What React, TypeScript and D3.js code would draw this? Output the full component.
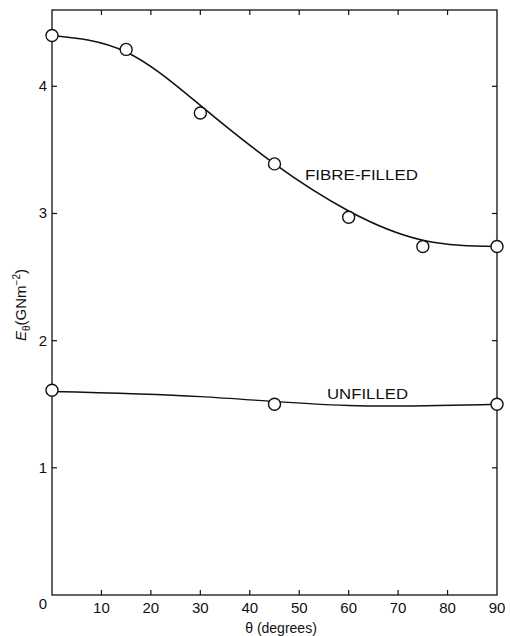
import * as d3 from 'd3';

// measured points (angle in degrees, modulus in GN m^-2)
const fibreAngles = [0, 15, 30, 45, 60, 75, 90];
const fibreValues = [4.4, 4.29, 3.79, 3.39, 2.97, 2.74, 2.74];
const unfilledAngles = [0, 45, 90];
const unfilledValues = [1.61, 1.5, 1.5];

// hand-drawn fitted curves
const fibreCurveAngles = [0, 15, 30, 45, 60, 75, 90];
const fibreCurveValues = [4.4, 4.27, 3.85, 3.39, 3.02, 2.79, 2.74];
const unfilledCurveAngles = [0, 30, 60, 90];
const unfilledCurveValues = [1.6, 1.56, 1.49, 1.5];

const xTicks = [10, 20, 30, 40, 50, 60, 70, 80, 90];
const yTicks = [1, 2, 3, 4];

const W = 510;
const H = 636;
const margin = { top: 10, right: 13, bottom: 41, left: 52 };

const App = () => {
  const x = d3.scaleLinear().domain([0, 90]).range([margin.left, W - margin.right]);
  const y = d3.scaleLinear().domain([0, 4.6]).range([H - margin.bottom, margin.top]);

  const line = d3.line<[number, number]>()
    .x(d => x(d[0]))
    .y(d => y(d[1]))
    .curve(d3.curveNatural);

  const fibreCurve = fibreCurveAngles.map((a, i) => [a, fibreCurveValues[i]] as [number, number]);
  const unfilledCurve = unfilledCurveAngles.map((a, i) => [a, unfilledCurveValues[i]] as [number, number]);

  const x0 = x(0), x1 = x(90), y0 = y(0), y1 = margin.top;
  const tick = 5;
  const font = "'Liberation Sans', Arial, sans-serif";

  return (
    <svg width={W} height={H} style={{ position: 'absolute', left: 0, top: 0, background: '#fff' }}
      fontFamily={font}>
      <rect x={x0} y={y1} width={x1 - x0} height={y0 - y1} fill="none" stroke="#111" strokeWidth={1.3} />
      {xTicks.slice(0, -1).map(t => (
        <g key={'xt' + t}>
          <line x1={x(t)} x2={x(t)} y1={y0} y2={y0 - tick} stroke="#111" strokeWidth={1.2} />
          <line x1={x(t)} x2={x(t)} y1={y1} y2={y1 + tick} stroke="#111" strokeWidth={1.2} />
        </g>
      ))}
      {yTicks.map(t => (
        <g key={'yt' + t}>
          <line x1={x0} x2={x0 + tick} y1={y(t)} y2={y(t)} stroke="#111" strokeWidth={1.2} />
          <line x1={x1} x2={x1 - tick} y1={y(t)} y2={y(t)} stroke="#111" strokeWidth={1.2} />
          <text x={x0 - 5} y={y(t) + 5} textAnchor="end" fontSize={15} fill="#111">{t}</text>
        </g>
      ))}
      {xTicks.map(t => (
        <text key={'xl' + t} x={x(t)} y={y0 + 18} textAnchor="middle" fontSize={15} fill="#111">{t}</text>
      ))}
      <text x={x0 - 9} y={y0 + 14} textAnchor="middle" fontSize={15} fill="#111">0</text>

      <path d={line(fibreCurve) ?? ''} fill="none" stroke="#111" strokeWidth={1.6} />
      <path d={line(unfilledCurve) ?? ''} fill="none" stroke="#111" strokeWidth={1.4} />

      {fibreAngles.map((a, i) => (
        <circle key={'f' + a} cx={x(a)} cy={y(fibreValues[i])} r={6} fill="#fff" stroke="#111" strokeWidth={1.4} />
      ))}
      {unfilledAngles.map((a, i) => (
        <circle key={'u' + a} cx={x(a)} cy={y(unfilledValues[i])} r={6} fill="#fff" stroke="#111" strokeWidth={1.4} />
      ))}

      <text x={305} y={180} fontSize={15} textLength={113} lengthAdjust="spacingAndGlyphs" fill="#111">FIBRE-FILLED</text>
      <text x={327} y={399} fontSize={15} textLength={81} lengthAdjust="spacingAndGlyphs" fill="#111">UNFILLED</text>

      <text x={281} y={633} textAnchor="middle" fontSize={14} fill="#111">θ (degrees)</text>
      <text transform={`translate(26,${305}) rotate(-90)`} textAnchor="middle" fontSize={15} fill="#111">
        <tspan fontStyle="italic">E</tspan>
        <tspan fontSize={10} dy={4}>θ</tspan>
        <tspan dy={-4}>(GNm</tspan>
        <tspan fontSize={10} dy={-6}>−2</tspan>
        <tspan dy={6}>)</tspan>
      </text>
    </svg>
  );
};

export default App;
